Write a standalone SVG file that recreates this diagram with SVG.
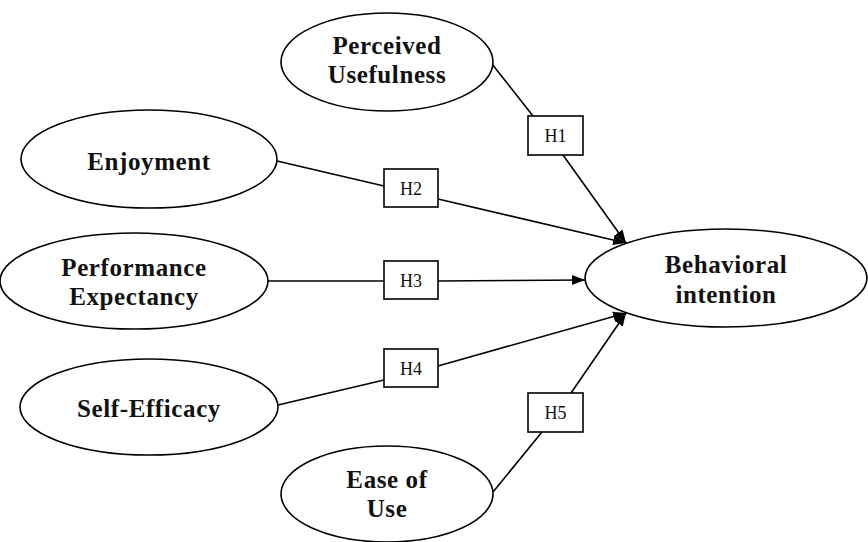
<svg xmlns="http://www.w3.org/2000/svg" width="868" height="542" viewBox="0 0 868 542">
<style>
.node ellipse{fill:#fff;stroke:#000;stroke-width:1.6}
.node text{font-family:"Liberation Serif","Times New Roman",serif;font-weight:bold;font-size:25px;letter-spacing:0.6px;fill:#111;text-anchor:middle}
.lbl rect{fill:#fff;stroke:#000;stroke-width:1.6}
.lbl text{font-family:"Liberation Serif","Times New Roman",serif;font-size:18px;fill:#111;text-anchor:middle}
.conn line{stroke:#000;stroke-width:1.6}
</style>
<defs>
<marker id="arr" markerUnits="userSpaceOnUse" markerWidth="14" markerHeight="12" viewBox="0 0 14 12" refX="13" refY="6" orient="auto">
<path d="M0,1 L13,6 L0,11 Z" fill="#000"/>
</marker>
</defs>
<g id="connectors" class="conn">
<line x1="492" y1="64" x2="533" y2="116"/>
<line x1="563" y1="155" x2="626" y2="243" marker-end="url(#arr)"/>
<line x1="277" y1="161" x2="384" y2="186"/>
<line x1="438" y1="199" x2="626" y2="243" marker-end="url(#arr)"/>
<line x1="268" y1="281" x2="384" y2="281"/>
<line x1="438" y1="281" x2="585" y2="280" marker-end="url(#arr)"/>
<line x1="278" y1="405" x2="384" y2="380"/>
<line x1="438" y1="366" x2="626" y2="313" marker-end="url(#arr)"/>
<line x1="493" y1="492" x2="542" y2="432"/>
<line x1="571" y1="393" x2="626" y2="313" marker-end="url(#arr)"/>
</g>
<g id="node-pu" class="node">
<ellipse cx="387" cy="62" rx="106" ry="49"/>
<text x="387" y="54">Perceived</text>
<text x="387" y="83">Usefulness</text>
</g>
<g id="node-enj" class="node">
<ellipse cx="149" cy="159" rx="128" ry="49"/>
<text x="149" y="170">Enjoyment</text>
</g>
<g id="node-pe" class="node">
<ellipse cx="134" cy="281" rx="134" ry="48"/>
<text x="134" y="276">Performance</text>
<text x="134" y="305">Expectancy</text>
</g>
<g id="node-se" class="node">
<ellipse cx="149" cy="407" rx="129" ry="48"/>
<text x="149" y="417">Self-Efficacy</text>
</g>
<g id="node-eou" class="node">
<ellipse cx="387" cy="494" rx="106" ry="48"/>
<text x="387" y="488">Ease of</text>
<text x="387" y="517">Use</text>
</g>
<g id="node-bi" class="node">
<ellipse cx="726" cy="278" rx="141" ry="49"/>
<text x="726" y="273">Behavioral</text>
<text x="726" y="303">intention</text>
</g>
<g id="label-h1" class="lbl">
<rect x="528" y="116" width="55" height="39"/>
<text x="555.5" y="142">H1</text>
</g>
<g id="label-h2" class="lbl">
<rect x="384" y="169" width="54" height="38"/>
<text x="411" y="195">H2</text>
</g>
<g id="label-h3" class="lbl">
<rect x="384" y="261" width="54" height="38"/>
<text x="411" y="287">H3</text>
</g>
<g id="label-h4" class="lbl">
<rect x="384" y="349" width="54" height="38"/>
<text x="411" y="375">H4</text>
</g>
<g id="label-h5" class="lbl">
<rect x="528" y="393" width="55" height="39"/>
<text x="555.5" y="419">H5</text>
</g>
</svg>
